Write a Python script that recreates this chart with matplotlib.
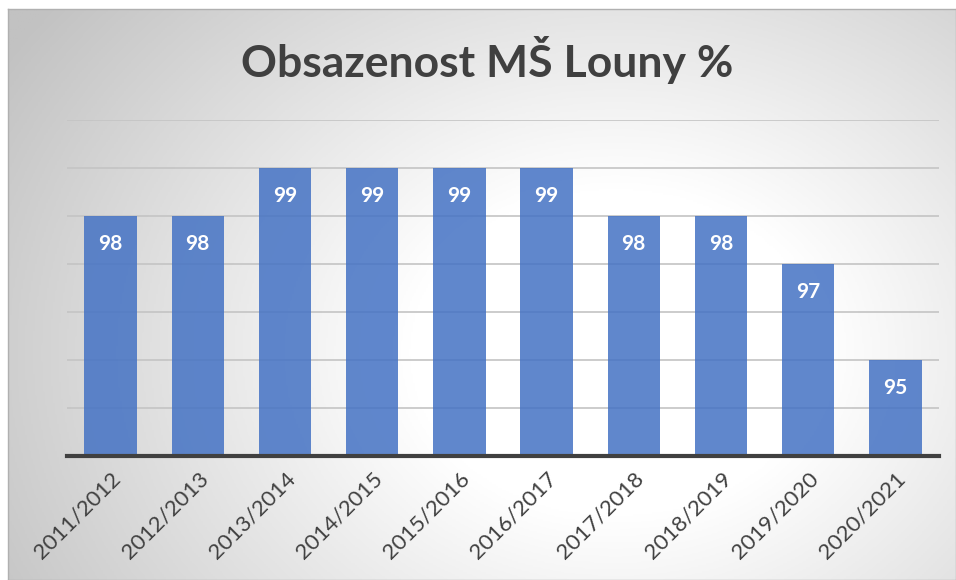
import numpy as np
import matplotlib.pyplot as plt
from matplotlib.colors import LinearSegmentedColormap

years = ["2011/2012", "2012/2013", "2013/2014", "2014/2015", "2015/2016",
         "2016/2017", "2017/2018", "2018/2019", "2019/2020", "2020/2021"]
occupancy = [98, 98, 99, 99, 99, 99, 98, 98, 97, 95]

plt.rcParams['font.family'] = ['Lato', 'DejaVu Sans']

fig = plt.figure(figsize=(9.56, 5.8), dpi=100)

# chart area background with radial gradient
bg = fig.add_axes([8 / 956, 0, 948 / 956, 571 / 580])
h, w = 300, 500
yy, xx = np.mgrid[0:h, 0:w]
r = np.sqrt(((xx - 0.64 * w) / (0.72 * w)) ** 2 + ((yy - 0.6 * h) / (0.95 * h)) ** 2)
shade = np.clip((r - 0.3) / 0.75, 0, 1)
cmap = LinearSegmentedColormap.from_list("bg", ["#ffffff", "#c2c2c2"])
bg.imshow(shade, cmap=cmap, aspect='auto', extent=[0, 1, 0, 1], vmin=0, vmax=1)
bg.set_xticks([])
bg.set_yticks([])
for s in bg.spines.values():
    s.set_color("#b0b0b0")
    s.set_linewidth(1)

ax = fig.add_axes([67 / 956, 1 - 456 / 580, 872 / 956, 336 / 580])
ax.patch.set_alpha(0)
x = np.arange(len(years))
bars = ax.bar(x, occupancy, width=0.6, color="#4472C4", alpha=0.85, zorder=2)
ax.set_ylim(93, 100)
ax.set_xlim(-0.5, len(years) - 0.5)
ax.set_yticks(np.arange(93, 101))
ax.yaxis.grid(True, color="#c4c4c4", linewidth=1.2, zorder=0)
ax.set_axisbelow(True)
ax.tick_params(axis='y', left=False, labelleft=False)
ax.tick_params(axis='x', length=0, pad=9)
ax.set_xticks(x)
ax.set_xticklabels(years, rotation=45, ha='right', rotation_mode='anchor',
                   fontsize=16, color="#404040")
for side in ['top', 'right', 'left']:
    ax.spines[side].set_visible(False)
ax.spines['bottom'].set_color("#404040")
ax.spines['bottom'].set_linewidth(3)

for xi, v in zip(x, occupancy):
    ax.text(xi, v - 0.58, str(v), ha='center', va='center', color='white',
            fontsize=15, fontweight='bold')

fig.text(0.51, 1 - 60 / 580, "Obsazenost MŠ Louny %", ha='center', va='center',
         fontsize=32, fontweight='bold', color="#404040")

fig.savefig("out.png", dpi=100)
